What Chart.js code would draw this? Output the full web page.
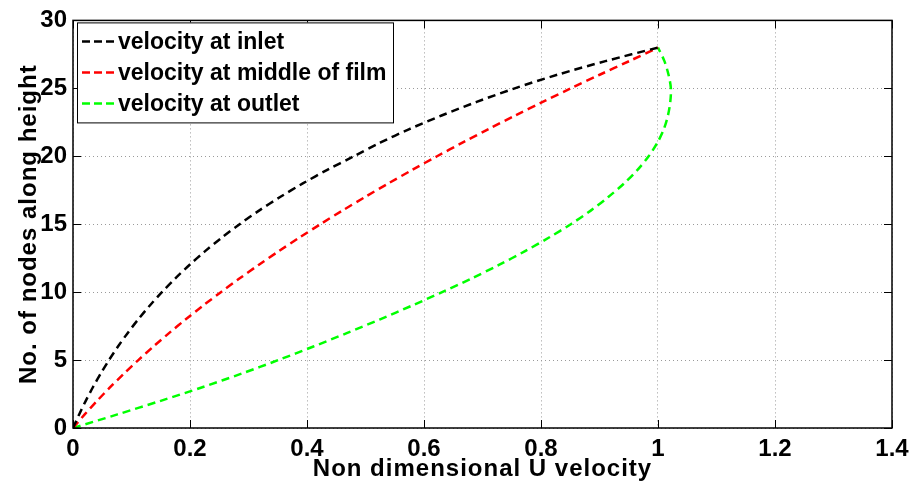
<!DOCTYPE html>
<html>
<head>
<meta charset="utf-8">
<script src="https://cdn.jsdelivr.net/npm/chart.js@4.4.1/dist/chart.umd.min.js"></script>
<style>
  html, body { margin: 0; padding: 0; background: #fff; }
  #wrap { width: 918px; height: 487px; }
</style>
</head>
<body>
<div id="wrap"><canvas id="chart"></canvas></div>
<script>
// node index along height (0..28)
const nodes = [0, 1, 2, 3, 4, 5, 6, 7, 8, 9, 10, 11, 12, 13, 14, 15, 16, 17, 18, 19, 20, 21, 22, 23, 24, 25, 26, 27, 28];

// non dimensional U velocity at each node
const inletU = [0, 0.0105, 0.0218, 0.034, 0.0473, 0.0615, 0.0769, 0.0936, 0.1116, 0.131, 0.152, 0.1746, 0.199, 0.2254, 0.254,
                0.2848, 0.318, 0.354, 0.3928, 0.4347, 0.48, 0.525, 0.575, 0.63, 0.69, 0.755, 0.828, 0.91, 1.0];
const middleU = [0, 0.02, 0.0412, 0.0635, 0.087, 0.1117, 0.1376, 0.1646, 0.1928, 0.2221, 0.2527, 0.2844, 0.3172, 0.3513, 0.3865,
                 0.4229, 0.4604, 0.4991, 0.539, 0.58, 0.6223, 0.6657, 0.7103, 0.756, 0.8029, 0.851, 0.9003, 0.9507, 1.0];
const outletU = [0, 0.076, 0.15, 0.221, 0.288, 0.351, 0.411, 0.469, 0.525, 0.579, 0.631, 0.681, 0.728, 0.772, 0.813,
                 0.851, 0.885, 0.915, 0.942, 0.965, 0.984, 0.999, 1.01, 1.017, 1.021, 1.022, 1.018, 1.011, 1.0];

const seriesNames = ['velocity at inlet', 'velocity at middle of film', 'velocity at outlet'];
const seriesColors = ['#000000', '#ff0000', '#00ff00'];

const xTitle = 'Non dimensional U velocity';
const yTitle = 'No. of nodes along height';

const FONT = '"Liberation Sans", Arial, Helvetica, sans-serif';

function toPoints(us) {
    return us.map((u, i) => ({ x: u, y: nodes[i] }));
}

// box, inward ticks, legend and axis titles in MATLAB style
const matlabFrame = {
    id: 'matlabFrame',
    afterDraw(chart) {
        const ctx = chart.ctx;
        const a = chart.chartArea;
        const xs = chart.scales.x;
        const ys = chart.scales.y;
        ctx.save();

        // ticks pointing into the plot, on all four sides
        ctx.strokeStyle = '#000';
        ctx.lineWidth = 1;
        ctx.beginPath();
        xs.ticks.forEach(t => {
            const px = Math.round(xs.getPixelForValue(t.value)) + 0.5;
            ctx.moveTo(px, a.bottom); ctx.lineTo(px, a.bottom - 8);
            ctx.moveTo(px, a.top); ctx.lineTo(px, a.top + 8);
        });
        ys.ticks.forEach(t => {
            const py = Math.round(ys.getPixelForValue(t.value)) + 0.5;
            ctx.moveTo(a.left, py); ctx.lineTo(a.left + 8, py);
            ctx.moveTo(a.right, py); ctx.lineTo(a.right - 8, py);
        });
        ctx.stroke();

        // axes box
        ctx.lineWidth = 1.5;
        ctx.strokeRect(a.left, a.top, a.right - a.left, a.bottom - a.top);

        // legend
        const lx = a.left + 4, ly = a.top + 2, lw = 316, lh = 100;
        ctx.fillStyle = '#fff';
        ctx.fillRect(lx, ly, lw, lh);
        ctx.lineWidth = 1;
        ctx.strokeStyle = '#000';
        ctx.strokeRect(lx + 0.5, ly + 0.5, lw, lh);
        ctx.font = 'bold 23px ' + FONT;
        ctx.textBaseline = 'middle';
        ctx.textAlign = 'left';
        chart.data.datasets.forEach((ds, i) => {
            const ry = ly + 19 + i * 31;
            ctx.setLineDash([8, 4]);
            ctx.strokeStyle = ds.borderColor;
            ctx.lineWidth = 2.5;
            ctx.beginPath();
            ctx.moveTo(lx + 5, ry); ctx.lineTo(lx + 38, ry);
            ctx.stroke();
            ctx.setLineDash([]);
            ctx.fillStyle = '#000';
            ctx.fillText(ds.label, lx + 41, ry + 1);
        });

        // axis titles
        ctx.fillStyle = '#000';
        ctx.font = 'bold 24px ' + FONT;
        ctx.letterSpacing = '1px';
        ctx.textAlign = 'center';
        ctx.textBaseline = 'middle';
        ctx.fillText(xTitle, (a.left + a.right) / 2, 469);
        ctx.translate(29, (a.top + a.bottom) / 2);
        ctx.rotate(-Math.PI / 2);
        ctx.fillText(yTitle, 0, 0);
        ctx.restore();
    }
};

const datasets = [inletU, middleU, outletU].map((us, i) => ({
    label: seriesNames[i],
    data: toPoints(us),
    borderColor: seriesColors[i],
    backgroundColor: seriesColors[i],
    borderWidth: 2.5,
    borderDash: [8, 5],
    pointRadius: 0,
    showLine: true,
    fill: false,
    tension: 0.3
}));

const gridStyle = {
    color: '#9a9a9a',
    lineWidth: 1,
    drawTicks: false
};

new Chart(document.getElementById('chart'), {
    type: 'scatter',
    data: { datasets: datasets },
    options: {
        responsive: true,
        maintainAspectRatio: false,
        animation: false,
        layout: { padding: { left: 0, right: 26, top: 19, bottom: 0 } },
        plugins: {
            legend: { display: false },
            tooltip: { enabled: false }
        },
        scales: {
            x: {
                type: 'linear',
                min: 0,
                max: 1.4,
                ticks: {
                    stepSize: 0.2,
                    color: '#000',
                    padding: 7,
                    maxRotation: 0,
                    font: { family: FONT, size: 24, weight: 'bold' },
                    callback: v => Math.round(v * 10) / 10
                },
                grid: gridStyle,
                border: { display: false, dash: [1, 3] },
                afterFit: s => { s.height = 59; }
            },
            y: {
                type: 'linear',
                min: 0,
                max: 30,
                ticks: {
                    stepSize: 5,
                    color: '#000',
                    padding: 6,
                    font: { family: FONT, size: 24, weight: 'bold' }
                },
                grid: gridStyle,
                border: { display: false, dash: [1, 3] },
                afterFit: s => { s.width = 73; }
            }
        }
    },
    plugins: [matlabFrame]
});
</script>
</body>
</html>
